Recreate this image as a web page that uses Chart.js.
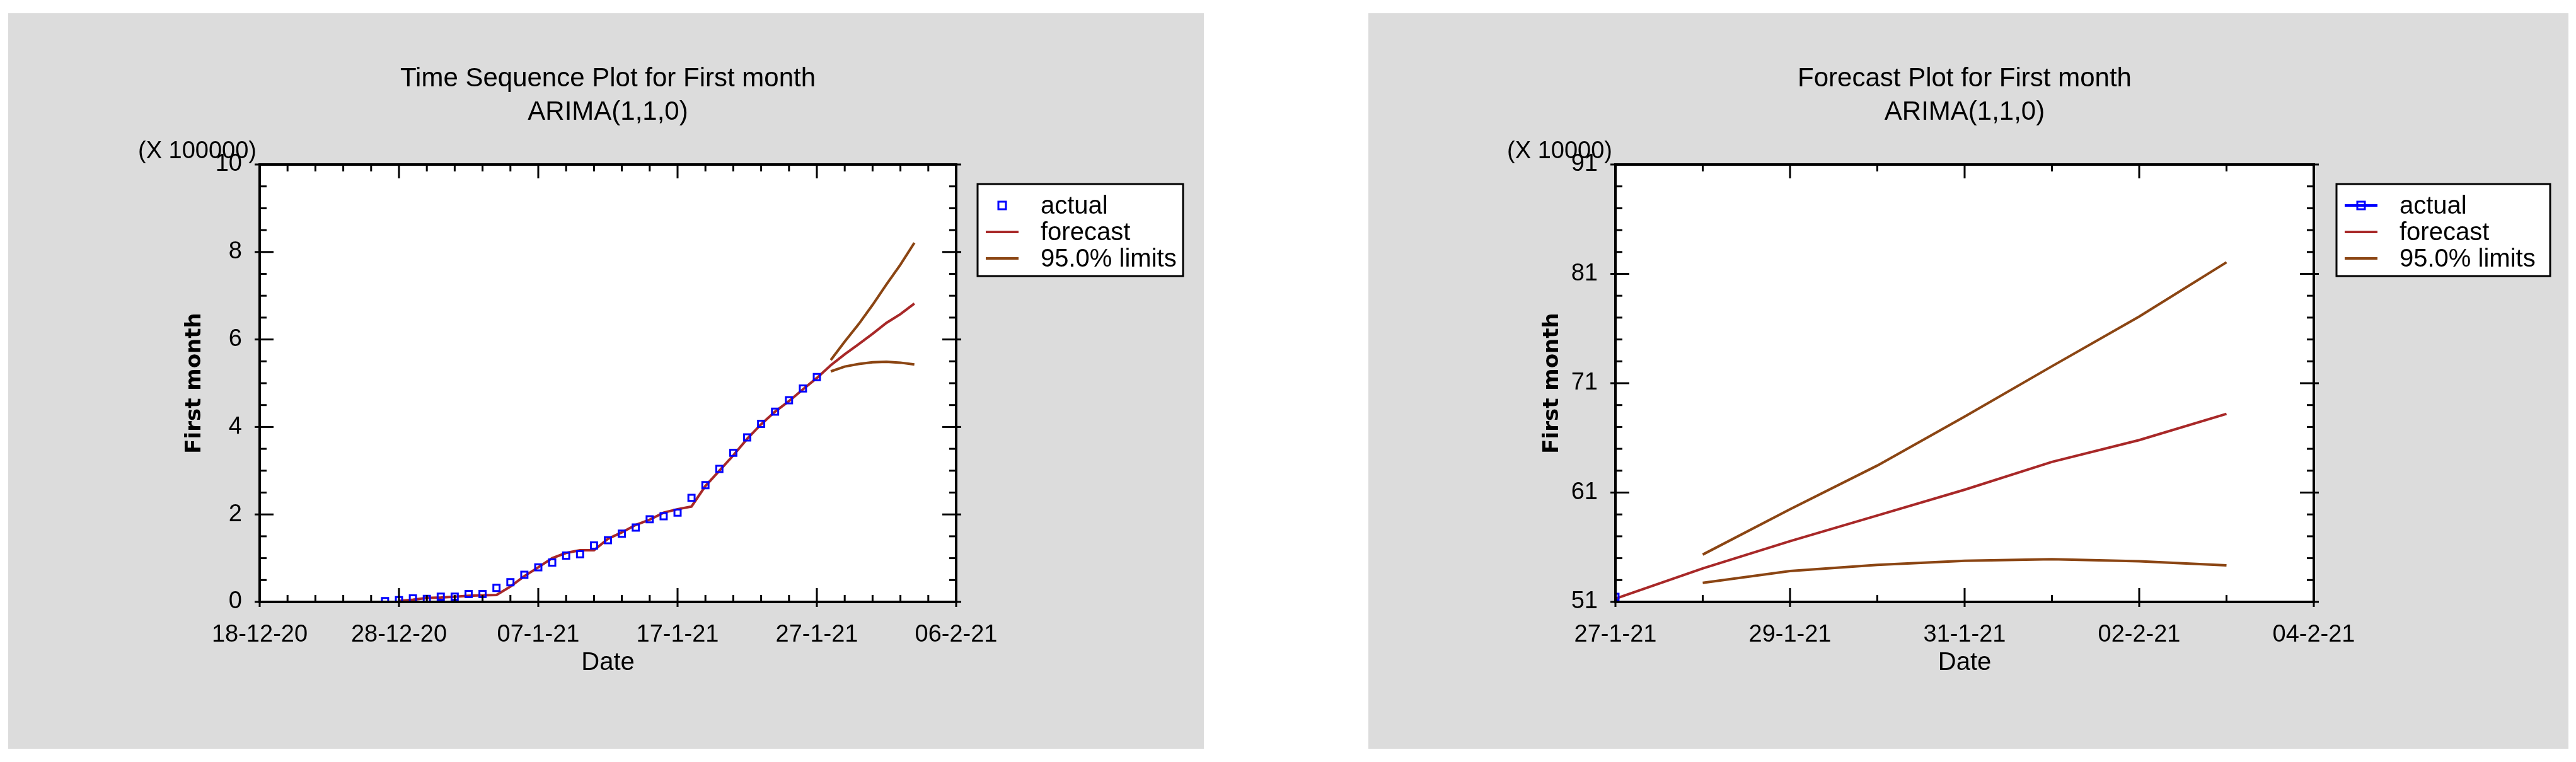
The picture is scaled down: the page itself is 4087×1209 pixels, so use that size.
<!DOCTYPE html>
<html><head><meta charset="utf-8">
<script src="https://cdn.jsdelivr.net/npm/chart.js@4/dist/chart.umd.min.js"></script>
<style>
body{margin:0;background:#fff;width:4087px;height:1209px;position:relative;overflow:hidden}
.p{position:absolute;background:#dcdcdc}
</style></head><body>
<div class="p" style="left:13px;top:21px;width:1897px;height:1167px"><canvas id="c1"></canvas></div>
<div class="p" style="left:2171px;top:21px;width:1904px;height:1167px"><canvas id="c2"></canvas></div>
<script>
// ---- data ----
const leftTickLabels = ['18-12-20','28-12-20','07-1-21','17-1-21','27-1-21','06-2-21'];
const rightTickLabels = ['27-1-21','29-1-21','31-1-21','02-2-21','04-2-21'];
const leftStart = '2020-12-18';
const rightStart = '2021-01-27';
const actualStart = '2020-12-27';
const actualValues = [0.02,0.04,0.08,0.07,0.12,0.12,0.18,0.18,0.32,0.45,0.62,0.79,0.90,1.06,1.09,1.29,1.41,1.56,1.70,1.89,1.96,2.04,2.38,2.67,3.04,3.41,3.76,4.07,4.35,4.61,4.88,5.14];
const fittedStart = '2020-12-28';
const fittedValues = [0.02,0.05,0.09,0.10,0.12,0.14,0.15,0.16,0.35,0.59,0.79,1.00,1.12,1.18,1.18,1.44,1.59,1.76,1.88,2.04,2.12,2.18,2.65,3.00,3.35,3.73,4.06,4.35,4.59,4.86,5.12,
  5.41,5.66,5.89,6.13,6.38,6.58,6.82];
const limitStart = '2021-01-28';
const upperLeft = [5.53,5.95,6.35,6.79,7.26,7.71,8.21];
const lowerLeft = [5.27,5.38,5.44,5.48,5.49,5.47,5.43];
const rightActualValues = [51.47];
const rightForecastValues = [51.3,54.06,56.55,58.9,61.26,63.8,65.8,68.2];
const rightUpper = [55.33,59.47,63.47,67.94,72.55,77.1,82.06];
const rightLower = [52.74,53.82,54.39,54.76,54.9,54.72,54.34];

const DAY = 86400000;
const d0 = s => Date.parse(s+'T00:00:00Z');
const dayOff = (s, base) => Math.round((d0(s)-d0(base))/DAY);
const series = (vals, startStr, base) => vals.map((v,i)=>({x: dayOff(startStr, base)+i, y: v}));

const FONT = "'Liberation Sans Narrow','Arial Narrow','Liberation Sans',sans-serif";
const FC = '#a82828', LC = '#8b4513', AC = '#0000ff';

const whiteBg = {
  id:'whiteBg',
  beforeDraw(ch){
    const a = ch.chartArea, c = ch.ctx;
    c.save(); c.fillStyle='#fff'; c.fillRect(a.left,a.top,a.right-a.left,a.bottom-a.top); c.restore();
  }
};

function deco(cfg){
  return {
    id:'deco',
    afterDraw(ch){
      const c = ch.ctx, a = ch.chartArea, xs = ch.scales.x, ys = ch.scales.y;
      c.save();
      c.fillStyle='#000'; c.textAlign='center'; c.textBaseline='middle';
      c.font = `42px ${FONT}`;
      const cx = (a.left+a.right)/2;
      c.fillText(cfg.title1, cx, 104);
      c.fillText('ARIMA(1,1,0)', cx, 157);
      c.font = `38px ${FONT}`;
      c.textAlign='right';
      c.fillText(cfg.mult, a.left - 5, 220);
      // frame
      c.strokeStyle='#000'; c.lineWidth=4;
      c.strokeRect(a.left, a.top, a.right-a.left, a.bottom-a.top);
      c.lineWidth=3;
      const tick=(x1,y1,x2,y2)=>{c.beginPath();c.moveTo(x1,y1);c.lineTo(x2,y2);c.stroke();};
      for(let v=xs.min; v<=xs.max+1e-9; v+=cfg.xMinor){
        const major = Math.abs((v - xs.min)/cfg.xMajor - Math.round((v - xs.min)/cfg.xMajor))<1e-6;
        const L = major?22:11, px = xs.getPixelForValue(v);
        tick(px,a.bottom,px,a.bottom-L); tick(px,a.top,px,a.top+L);
        if(major){ tick(px,a.bottom,px,a.bottom+8); }
      }
      for(let v=ys.min; v<=ys.max+1e-9; v+=cfg.yMinor){
        const major = Math.abs((v - ys.min)/cfg.yMajor - Math.round((v - ys.min)/cfg.yMajor))<1e-6;
        const L = major?22:11, py = ys.getPixelForValue(v);
        tick(a.left,py,a.left+L,py); tick(a.right,py,a.right-L,py);
        if(major){ tick(a.left,py,a.left-8,py); tick(a.right,py,a.right+8,py); }
      }
      // legend
      const lx = cfg.legX, ly = 271;
      c.fillStyle='#fff'; c.fillRect(lx, ly, cfg.legW, 146);
      c.strokeStyle='#000'; c.lineWidth=3; c.strokeRect(lx, ly, cfg.legW, 146);
      c.font = `40px ${FONT}`; c.textAlign='left'; c.fillStyle='#000';
      const ds = ch.data.datasets;
      [ds[0], ds[1], ds[2]].forEach((d,i)=>{
        const yy = ly + 34 + i*42, sx = lx + 13;
        if(i===0){
          if(cfg.actualLine){ c.strokeStyle=AC; c.lineWidth=4; tick(sx, yy, sx+52, yy); }
          c.strokeStyle=AC; c.lineWidth=3; c.strokeRect(sx+26-6, yy-6, 12, 12);
        } else {
          c.strokeStyle=d.borderColor; c.lineWidth=4; tick(sx, yy, sx+52, yy);
        }
        c.fillText(d.label, lx+100, yy+2);
      });
      c.restore();
    }
  };
}

function make(id, cfg){
  return new Chart(document.getElementById(id), {
    type:'line',
    data:{datasets:cfg.datasets},
    options:{
      responsive:true, maintainAspectRatio:false, animation:false,
      layout:{padding:{left:cfg.padL, right:cfg.padR, top:240, bottom:112}},
      plugins:{legend:{display:false}, tooltip:{enabled:false}},
      elements:{line:{tension:0}},
      scales:{
        x:{type:'linear', min:cfg.xmin, max:cfg.xmax,
          grid:{display:false}, border:{display:false},
          afterFit:s=>{s.height=121;},
          afterBuildTicks:s=>{s.ticks=[];for(let v=cfg.xmin;v<=cfg.xmax;v+=cfg.xMajor)s.ticks.push({value:v});},
          ticks:{padding:22, color:'#000', font:{family:FONT,size:38}, maxRotation:0, autoSkip:false,
            callback:(v)=>cfg.xLabels[Math.round((v-cfg.xmin)/cfg.xMajor)]},
          title:{display:true, text:'Date', color:'#000', font:{family:FONT,size:40}, padding:{top:4,bottom:0}}},
        y:{min:cfg.ymin, max:cfg.ymax,
          grid:{display:false}, border:{display:false},
          afterFit:s=>{s.width=cfg.yW;},
          afterBuildTicks:s=>{s.ticks=[];for(let v=cfg.ymin;v<=cfg.ymax+1e-9;v+=cfg.yMajor)s.ticks.push({value:v});},
          ticks:{padding:20, color:'#000', font:{family:FONT,size:38}},
          title:{display:true, text:'First month', color:'#000', font:{family:"'DejaVu Sans',sans-serif",size:34,weight:'bold'}, padding:{bottom:10}}}
      }
    },
    plugins:[whiteBg, deco(cfg)]
  });
}

make('c1', {
  title1:'Time Sequence Plot for First month', mult:'(X 100000)',
  xmin:0, xmax:50, xMajor:10, xMinor:2, ymin:0, ymax:10, yMajor:2, yMinor:0.5,
  xLabels:leftTickLabels, padL:272, padR:393, yW:127, legX:1538, legW:326, actualLine:false,
  datasets:[
    {label:'actual', data:series(actualValues, actualStart, leftStart), showLine:false, pointStyle:'rect', pointRadius:7, borderColor:AC, backgroundColor:'rgba(0,0,0,0)', borderWidth:3},
    {label:'forecast', data:series(fittedValues, fittedStart, leftStart), borderColor:FC, borderWidth:4, pointRadius:0},
    {label:'95.0% limits', data:series(upperLeft, limitStart, leftStart), borderColor:LC, borderWidth:4, pointRadius:0},
    {label:'lower', data:series(lowerLeft, limitStart, leftStart), borderColor:LC, borderWidth:4, pointRadius:0}
  ]
});
make('c2', {
  title1:'Forecast Plot for First month', mult:'(X 10000)',
  xmin:0, xmax:8, xMajor:2, xMinor:1, ymin:51, ymax:91, yMajor:10, yMinor:2,
  xLabels:rightTickLabels, padL:268, padR:404, yW:124, legX:1536, legW:339, actualLine:true,
  datasets:[
    {label:'actual', data:series(rightActualValues, rightStart, rightStart), pointStyle:'rect', pointRadius:7, borderColor:AC, backgroundColor:'rgba(0,0,0,0)', borderWidth:3},
    {label:'forecast', data:series(rightForecastValues, rightStart, rightStart), borderColor:FC, borderWidth:4, pointRadius:0},
    {label:'95.0% limits', data:series(rightUpper, limitStart, rightStart), borderColor:LC, borderWidth:4, pointRadius:0},
    {label:'lower', data:series(rightLower, limitStart, rightStart), borderColor:LC, borderWidth:4, pointRadius:0}
  ]
});
</script></body></html>
